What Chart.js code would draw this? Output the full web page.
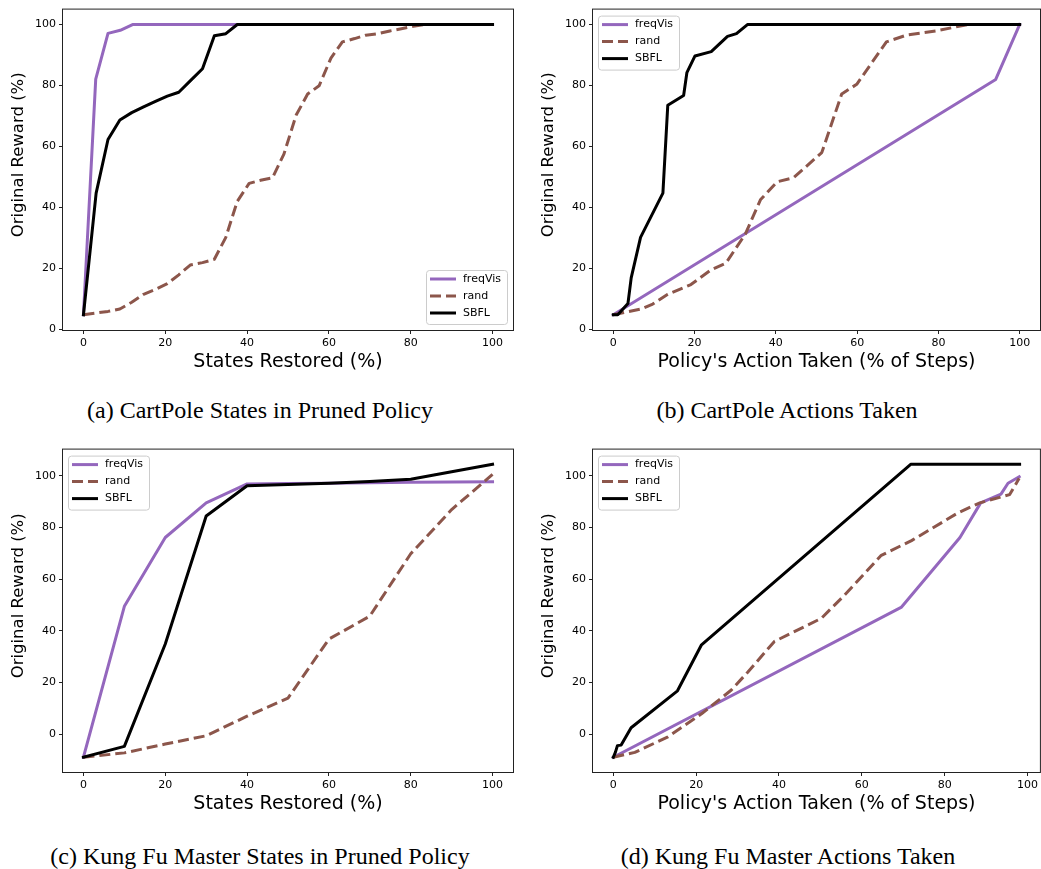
<!DOCTYPE html>
<html>
<head>
<meta charset="utf-8">
<script src="https://cdn.jsdelivr.net/npm/chart.js@4.4.1/dist/chart.umd.min.js"></script>
<style>
  body { margin: 0; background: #fff; width: 1041px; height: 869px; position: relative; overflow: hidden; }
  .panel { position: absolute; }
  .cap { position: absolute; font-family: "Liberation Serif", "Times New Roman", serif; font-size: 24px;
         line-height: 24px; color: #000; white-space: nowrap; transform: translateX(-50%); }
</style>
</head>
<body>
<div class="panel" style="left:0;top:0"><canvas id="chartA" width="525" height="390"></canvas></div>
<div class="panel" style="left:530px;top:0"><canvas id="chartB" width="511" height="390"></canvas></div>
<div class="panel" style="left:0;top:440px"><canvas id="chartC" width="525" height="392"></canvas></div>
<div class="panel" style="left:530px;top:440px"><canvas id="chartD" width="511" height="392"></canvas></div>
<div class="cap" style="left:260px;top:398px">(a) CartPole States in Pruned Policy</div>
<div class="cap" style="left:787px;top:398px">(b) CartPole Actions Taken</div>
<div class="cap" style="left:260px;top:844px">(c) Kung Fu Master States in Pruned Policy</div>
<div class="cap" style="left:788px;top:844px">(d) Kung Fu Master Actions Taken</div>
<script>
const seriesNames = ['freqVis', 'rand', 'SBFL'];
const xTicks = [0, 20, 40, 60, 80, 100];
const yTicks = [0, 20, 40, 60, 80, 100];
const yTitle = 'Original Reward (%)';
const xTitleStates = 'States Restored (%)';
const xTitleActions = "Policy's Action Taken (% of Steps)";

// (a) CartPole states in pruned policy
const aFreqX = [0, 3, 6, 9, 12, 100];
const aFreqY = [4.7, 82, 97, 98, 99.9, 99.9];
const aRandX = [0, 6, 8.9, 11.8, 14.7, 17.6, 20.5, 23.3, 26.1, 29.1, 32, 34.8, 37.6, 40.5, 43.3, 46.2, 49, 52, 54.8, 57.6, 60.5, 63.3, 66.3, 69, 72, 74.9, 77.7, 80.6, 83.4, 100];
const aRandY = [4.7, 5.8, 6.6, 8.8, 11.4, 13.0, 14.9, 17.8, 21.0, 21.8, 22.9, 30.1, 41.9, 47.8, 48.8, 49.6, 57.4, 70.2, 77.1, 79.8, 88.9, 94.2, 95.3, 96.4, 96.9, 97.8, 98.5, 99.3, 99.9, 99.9];
const aSbflX = [0, 3.1, 6, 8.9, 11.8, 14.7, 17.6, 20.5, 23.3, 26.1, 29.1, 32, 34.8, 37.6, 100];
const aSbflY = [4.7, 44.6, 62.2, 68.6, 71.0, 72.9, 74.7, 76.4, 77.7, 81.4, 85.4, 96.2, 96.9, 99.9, 99.9];

// (b) CartPole actions taken
const bFreqX = [0, 94.1, 100];
const bFreqY = [4.7, 81.9, 99.9];
const bRandX = [0, 6.9, 9.7, 13.4, 19.1, 24, 27.7, 32.5, 36.2, 40.3, 44.4, 51.3, 56.2, 59.9, 67.2, 72.1, 79.4, 87.2, 100];
const bRandY = [4.7, 6.6, 8.2, 11.4, 14.6, 19.4, 21.6, 31.2, 42.4, 48.3, 49.7, 57.9, 77.1, 80.3, 94.2, 96.4, 97.8, 99.9, 99.9];
const bSbflX = [0, 1.1, 3.6, 4.4, 6.7, 12.2, 13.4, 17.3, 18.1, 20.1, 24.1, 28.1, 30.3, 33, 100];
const bSbflY = [4.7, 4.7, 8.4, 16.8, 30.1, 44.6, 73.4, 76.6, 84.1, 89.6, 91.0, 96.0, 96.9, 99.9, 99.9];

// (c) Kung Fu Master states in pruned policy
const cX = [0, 10, 20, 30, 40, 50, 60, 70, 80, 90, 100];
const cFreqY = [-8.9, 49.5, 76.1, 89.5, 96.8, 97.0, 97.1, 97.3, 97.5, 97.6, 97.7];
const cRandY = [-8.9, -7.2, -3.8, -0.6, 7.0, 14.0, 36.8, 45.7, 69.8, 86.9, 100.5];
const cSbflY = [-8.9, -4.7, 34.9, 84.4, 96.1, 96.6, 97.1, 97.8, 98.6, 101.5, 104.4];

// (d) Kung Fu Master actions taken
const dFreqX = [0, 69.6, 83.7, 88.7, 93.6, 95.3, 98];
const dFreqY = [-8.9, 49.2, 76.1, 89.5, 92.9, 97.1, 99.6];
const dRandX = [0, 5.2, 13.2, 21.3, 28.5, 32.5, 38.9, 50.2, 55.9, 64.7, 72, 83.3, 88.5, 95.7, 98];
const dRandY = [-8.9, -7.0, -1.0, 7.9, 17.1, 24.1, 35.9, 44.8, 53.9, 69.2, 74.9, 85.7, 89.5, 92.7, 99.0];
const dSbflX = [0, 0.5, 1, 1.9, 4.3, 15.5, 21.3, 71.8, 98.1];
const dSbflY = [-8.9, -7.0, -4.4, -4.2, 2.5, 16.8, 34.6, 104.4, 104.4];

Chart.defaults.font.family = '"DejaVu Sans", sans-serif';
Chart.defaults.color = '#000';

const lineStyles = [
  { borderColor: '#9467bd', borderWidth: 3, borderCapStyle: 'square', order: 3 },
  { borderColor: '#8c564b', borderWidth: 3, borderDash: [11, 5], borderCapStyle: 'butt', order: 2 },
  { borderColor: '#000000', borderWidth: 3, borderCapStyle: 'square', order: 1 }
];

function pts(xs, ys) {
  return xs.map((x, i) => ({ x: x, y: ys[i] }));
}

// box around the axes, like matplotlib spines
const frame = {
  id: 'frame',
  afterDatasetsDraw(chart) {
    const a = chart.chartArea, c = chart.ctx;
    c.save();
    c.strokeStyle = '#222';
    c.lineWidth = 1;
    c.strokeRect(a.left - 0.5, a.top - 0.5, a.right - a.left + 1, a.bottom - a.top + 1);
    c.restore();
  }
};

// legend drawn inside the axes with a rounded box
const boxLegend = {
  id: 'boxLegend',
  afterDraw(chart, args, opts) {
    const a = chart.chartArea, c = chart.ctx;
    const w = 81, h = 54;
    const x0 = opts.corner === 'lr' ? a.right - 6 - w : a.left + 5;
    const y0 = opts.corner === 'lr' ? a.bottom - 6 - h : a.top + 6;
    c.save();
    c.beginPath();
    c.roundRect(x0 + 0.5, y0 + 0.5, w, h, 3);
    c.fillStyle = 'rgba(255,255,255,0.8)';
    c.fill();
    c.strokeStyle = '#cccccc';
    c.lineWidth = 1;
    c.stroke();
    c.font = '11px "DejaVu Sans"';
    c.textBaseline = 'middle';
    chart.data.datasets.forEach((ds, i) => {
      const y = y0 + 9 + i * 17;
      c.beginPath();
      c.setLineDash(ds.borderDash || []);
      c.lineCap = 'butt';
      c.strokeStyle = ds.borderColor;
      c.lineWidth = ds.borderWidth;
      c.moveTo(x0 + 4, y);
      c.lineTo(x0 + 30, y);
      c.stroke();
      c.setLineDash([]);
      c.fillStyle = '#000';
      c.fillText(ds.label, x0 + 37, y);
    });
    c.restore();
  }
};

// y axis label (sits a bit above the axes centre in the original)
const yLabel = {
  id: 'yLabel',
  afterDraw(chart, args, opts) {
    const a = chart.chartArea, c = chart.ctx;
    c.save();
    c.translate(a.left - 44, (a.top + a.bottom) / 2 + opts.dy);
    c.rotate(-Math.PI / 2);
    c.font = '16.5px "DejaVu Sans"';
    c.textAlign = 'center';
    c.textBaseline = 'middle';
    c.fillStyle = '#000';
    c.fillText(yTitle, 0, 0);
    c.restore();
  }
};

function makeChart(id, series, xTitle, xr, yr, pad, corner, dy) {
  const datasets = series.map((s, i) => Object.assign({
    label: seriesNames[i],
    data: s,
    pointRadius: 0,
    tension: 0,
    fill: false,
    borderJoinStyle: 'round'
  }, lineStyles[i]));

  const tickGrid = { drawOnChartArea: false, drawTicks: true, tickLength: 4, color: '#222' };

  return new Chart(document.getElementById(id), {
    type: 'line',
    data: { datasets: datasets },
    plugins: [frame, boxLegend, yLabel],
    options: {
      responsive: false,
      animation: false,
      layout: { padding: pad },
      plugins: {
        legend: { display: false },
        tooltip: { enabled: false },
        boxLegend: { corner: corner },
        yLabel: { dy: dy }
      },
      scales: {
        x: {
          type: 'linear',
          min: xr[0], max: xr[1],
          afterBuildTicks: s => { s.ticks = xTicks.map(v => ({ value: v })); },
          afterFit: s => { s.height = 60; },
          grid: tickGrid,
          border: { display: false },
          ticks: { font: { size: 11 }, color: '#000', padding: 3, maxRotation: 0, autoSkip: false },
          title: { display: true, text: xTitle, font: { size: 19 }, color: '#000', padding: { top: 0, bottom: 17 } }
        },
        y: {
          type: 'linear',
          min: yr[0], max: yr[1],
          afterBuildTicks: s => { s.ticks = yTicks.map(v => ({ value: v })); },
          afterFit: s => { s.width = 63; },
          grid: tickGrid,
          border: { display: false },
          ticks: { font: { size: 11 }, color: '#000', padding: 3 }
        }
      }
    }
  });
}

makeChart('chartA',
  [pts(aFreqX, aFreqY), pts(aRandX, aRandY), pts(aSbflX, aSbflY)],
  xTitleStates, [-5, 105], [-0.3, 104.8], { left: 0, top: 2, right: 12, bottom: 0 }, 'lr', -15);

makeChart('chartB',
  [pts(bFreqX, bFreqY), pts(bRandX, bRandY), pts(bSbflX, bSbflY)],
  xTitleActions, [-5, 105], [-0.3, 104.8], { left: 0, top: 2, right: 1, bottom: 0 }, 'ul', -15);

makeChart('chartC',
  [pts(cX, cFreqY), pts(cX, cRandY), pts(cX, cSbflY)],
  xTitleStates, [-5, 105], [-14.6, 110.1], { left: 0, top: 4, right: 12, bottom: 0 }, 'ul', -15);

makeChart('chartD',
  [pts(dFreqX, dFreqY), pts(dRandX, dRandY), pts(dSbflX, dSbflY)],
  xTitleActions, [-4.9, 103], [-14.6, 110.1], { left: 0, top: 4, right: 1, bottom: 0 }, 'ul', -15);
</script>
</body>
</html>
